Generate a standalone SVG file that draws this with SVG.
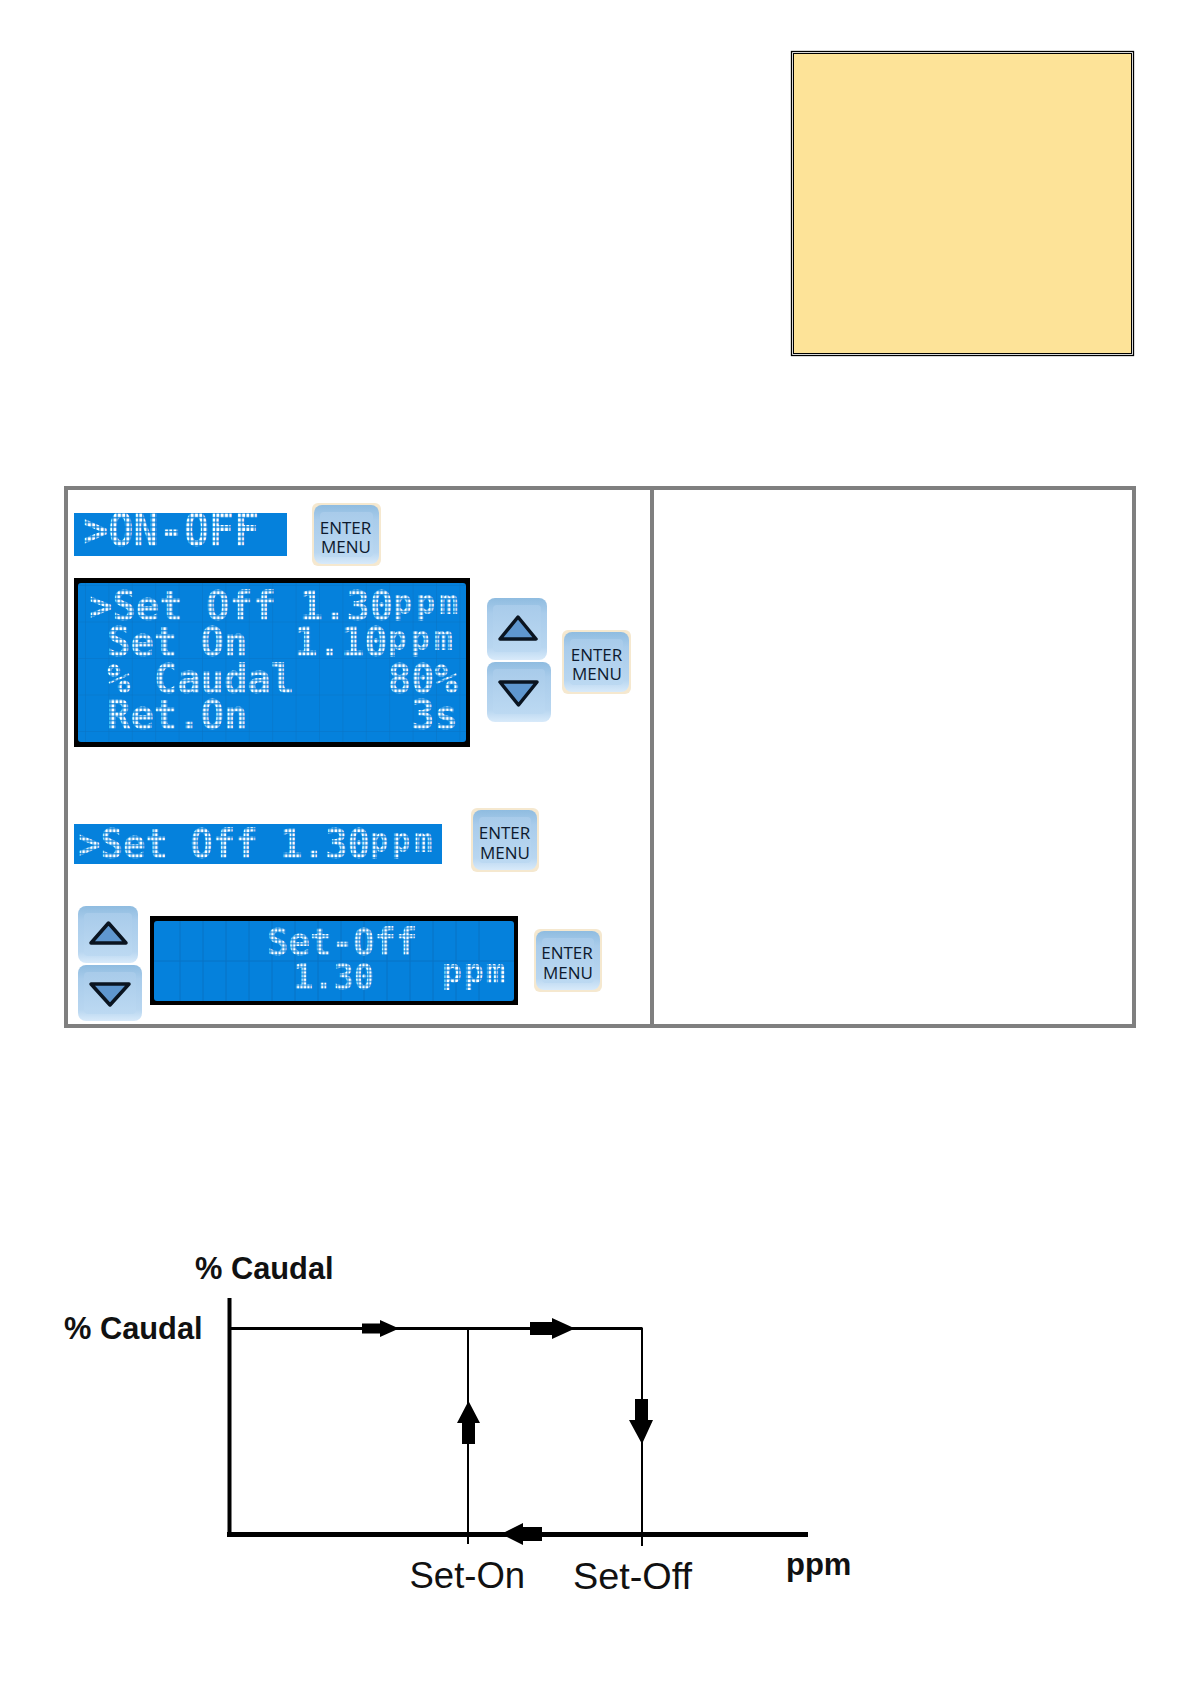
<svg xmlns="http://www.w3.org/2000/svg" width="1191" height="1684" viewBox="0 0 1191 1684">
<style>
.lcd{font-family:"DejaVu Sans Mono","Liberation Mono",monospace;font-weight:bold;font-size:41px;fill:url(#dots);white-space:pre}
.unit{font-size:33px}
.btn{font-family:"Open Sans","Liberation Sans",sans-serif;font-size:17px;fill:#0d1a2e;text-anchor:middle}
.tri{fill:#5f97cf;stroke:#0a1420;stroke-width:3.5;stroke-linejoin:round}
.sans{font-family:"Liberation Sans",Arial,sans-serif;fill:#111}
.b{font-weight:bold}
.ax{stroke:#000;fill:none}
.ah{fill:#000}
.screen{fill:url(#grid)}
</style>
<defs>
<pattern id="dots" width="4.2" height="4.2" patternUnits="userSpaceOnUse"><rect x=".5" y=".5" width="3" height="3" fill="#fff"/></pattern>
<pattern id="grid" width="23.4" height="36.5" patternUnits="userSpaceOnUse" x="85" y="585"><rect width="23.4" height="36.5" fill="#0581dc"/><path d="M0 0V36.5M0 0H23.4" stroke="#0873c4" stroke-width="1" fill="none"/></pattern>
<linearGradient id="face" x1="0" y1="0" x2="0" y2="1"><stop offset="0" stop-color="#8fbce0"/><stop offset=".25" stop-color="#a9cceb"/><stop offset=".8" stop-color="#b8d6f0"/><stop offset="1" stop-color="#d8eafa"/></linearGradient>
<linearGradient id="face2" x1="0" y1="0" x2="0" y2="1"><stop offset="0" stop-color="#a8cbea"/><stop offset="1" stop-color="#bcd9f2"/></linearGradient>
</defs>

<g id="note-box">
<rect x="791" y="51" width="343" height="305" fill="#fff" stroke="none"/>
<rect x="791.5" y="51.5" width="342" height="304" fill="none" stroke="#000" stroke-width="1.3"/>
<rect x="793.5" y="53.5" width="338" height="300" fill="#fde398" stroke="#000" stroke-width="1"/>
</g>

<g id="table">
<rect x="66" y="488" width="1068" height="538" fill="#fff" stroke="#7f7f7f" stroke-width="4"/>
<path d="M652 488V1026" stroke="#7f7f7f" stroke-width="4"/>
</g>

<g id="lcd-onoff">
<rect x="74" y="513" width="213" height="43" fill="#0581dc"/>
<text class="lcd" transform="translate(83,546) scale(1.02,1.12)">&gt;ON-OFF</text>
</g>
<g id="btn-enter-1">
<rect x="312" y="503" width="69" height="63" rx="6" fill="#f5e8cf"/>
<rect x="314" y="505" width="65" height="59" rx="8" fill="url(#face)"/>
<rect x="320" y="512" width="53" height="45" rx="4" fill="url(#face2)"/>
<text class="btn" x="345.500" y="534">ENTER</text><text class="btn" x="346" y="553">MENU</text>
</g>

<g id="lcd-main">
<rect x="74" y="578" width="396" height="169" fill="#000"/>
<rect x="78" y="583" width="388" height="159" rx="3" class="screen"/>
<text class="lcd" transform="translate(89,620) scale(.948,1)">&gt;Set Off 1.30<tspan class="unit" dy="-6" letter-spacing="4.5">ppm</tspan></text>
<text class="lcd" transform="translate(107,656) scale(.948,1)">Set On  1.10<tspan class="unit" dy="-6" letter-spacing="4.5">ppm</tspan></text>
<text class="lcd" transform="translate(107,693) scale(.948,1)">% Caudal    80%</text>
<text class="lcd" transform="translate(107,729) scale(.948,1)">Ret.On       3s</text>
</g>
<g id="btn-up-1">
<rect x="487" y="598" width="60" height="62" rx="8" fill="url(#face)"/>
<rect x="493" y="605" width="48" height="47" rx="4" fill="url(#face2)"/>
<path class="tri" d="M518 617L536 639H500Z"/>
</g>
<g id="btn-down-1">
<rect x="487" y="662" width="64" height="60" rx="8" fill="url(#face)"/>
<rect x="493" y="669" width="52" height="45" rx="4" fill="url(#face2)"/>
<path class="tri" d="M500 682H537L518.500 705Z"/>
</g>
<g id="btn-enter-2">
<rect x="562" y="630" width="69" height="64" rx="6" fill="#f5e8cf"/>
<rect x="564" y="632" width="65" height="60" rx="8" fill="url(#face)"/>
<rect x="570" y="639" width="53" height="46" rx="4" fill="url(#face2)"/>
<text class="btn" x="596.500" y="661">ENTER</text><text class="btn" x="597" y="680">MENU</text>
</g>

<g id="lcd-setoff">
<rect x="74" y="824" width="368" height="40" fill="#0581dc"/>
<text class="lcd" transform="translate(78,858) scale(.91,1)">&gt;Set Off 1.30<tspan class="unit" dy="-6" letter-spacing="4.5">ppm</tspan></text>
</g>
<g id="btn-enter-3">
<rect x="471" y="808" width="68" height="64" rx="6" fill="#f5e8cf"/>
<rect x="473" y="810" width="64" height="60" rx="8" fill="url(#face)"/>
<rect x="479" y="817" width="52" height="46" rx="4" fill="url(#face2)"/>
<text class="btn" x="504.500" y="839">ENTER</text><text class="btn" x="505" y="859">MENU</text>
</g>

<g id="btn-up-2">
<rect x="78" y="906" width="60" height="57" rx="8" fill="url(#face)"/>
<rect x="84" y="913" width="48" height="43" rx="4" fill="url(#face2)"/>
<path class="tri" d="M108.500 923L126 943H91Z"/>
</g>
<g id="btn-down-2">
<rect x="78" y="965" width="64" height="56" rx="8" fill="url(#face)"/>
<rect x="84" y="972" width="52" height="42" rx="4" fill="url(#face2)"/>
<path class="tri" d="M91 984H129L110 1005Z"/>
</g>
<g id="lcd-value">
<rect x="150" y="916" width="368" height="89" fill="#000"/>
<rect x="154" y="921" width="360" height="80" rx="3" fill="#0581dc"/>
<path d="M154 961H514M180 921V1001M203 921V1001M226 921V1001M249 921V1001M272 921V1001M295 921V1001M318 921V1001M341 921V1001M364 921V1001M387 921V1001M410 921V1001M433 921V1001M456 921V1001M479 921V1001" stroke="#0873c4" stroke-width="1" fill="none"/>
<text class="lcd" transform="translate(267,955) scale(.87,.9)">Set-Off</text>
<text class="lcd" transform="translate(293,989) scale(.82,.87)">1.30</text>
<text class="lcd unit" transform="translate(442,983)" letter-spacing="2">ppm</text>
</g>
<g id="btn-enter-4">
<rect x="534" y="929" width="68" height="63" rx="6" fill="#f5e8cf"/>
<rect x="536" y="931" width="64" height="59" rx="8" fill="url(#face)"/>
<rect x="542" y="938" width="52" height="45" rx="4" fill="url(#face2)"/>
<text class="btn" x="567" y="959">ENTER</text><text class="btn" x="568" y="979">MENU</text>
</g>

<g id="connectors">
<path class="ax" stroke-width="4" d="M229.500 1298V1536"/>
<path class="ax" stroke-width="3" d="M229 1328.500H642.500"/>
<path class="ax" stroke-width="2" d="M468 1328V1544M642 1328V1546"/>
<path class="ax" stroke-width="5" d="M227 1534.500H808"/>
<path class="ah" d="M362 1323.500H380V1320L399 1328.500L380 1337V1333.500H362Z"/>
<path class="ah" d="M530 1322H552V1318L575 1328.500L552 1339V1335H530Z"/>
<path class="ah" d="M468.500 1401L480 1423H475V1444H462V1423H457Z"/>
<path class="ah" d="M635 1399H648V1420H653L642 1444L629 1420H635Z"/>
<path class="ah" d="M501 1534L523 1523V1527H542V1541H523V1545Z"/>
</g>

<g id="chart-labels">
<text class="sans b" x="195" y="1279" font-size="30.800">% Caudal</text>
<text class="sans b" x="64" y="1339" font-size="30.800">% Caudal</text>
<text class="sans" x="409.500" y="1588" font-size="36.500">Set-On</text>
<text class="sans" x="573" y="1589" font-size="37.800">Set-Off</text>
<text class="sans b" x="786" y="1575" font-size="31">ppm</text>
</g>
</svg>
